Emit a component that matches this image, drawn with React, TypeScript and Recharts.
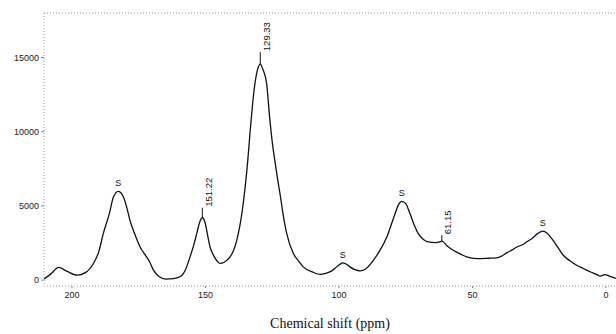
import { ComposedChart, Line, Scatter, XAxis, YAxis, ReferenceLine } from 'recharts';

// chemical shift (ppm), read from left (high) to right (low)
const shiftPpm = [
  210.5, 208, 205, 202, 198, 195, 192, 190, 188.3, 186, 184.5, 182.7, 181, 179.5, 178.3, 176.5,
  174.5, 172.3, 171, 169.5, 167.5, 165, 162, 159.6, 157.5, 155.8, 154.5, 153.3, 152.2, 151.2,
  150.2, 149.3, 148.3, 146.8, 145.5, 144.6, 143, 140.8, 139.5, 138.3, 137.1, 136.4, 135.2, 134.2,
  133.3, 132.4, 131.5, 130.5, 129.5, 128.5, 127.1, 126, 125, 124, 123, 122, 121, 119.6, 117.1, 115,
  113.4, 110, 107.1, 105, 102.7, 100.5, 98.6, 97, 95.9, 94, 92.1, 90, 87.1, 85, 82.1, 80.5, 79,
  77.8, 76.5, 75, 73.4, 71.8, 70.3, 68.5, 66.6, 64, 62.2, 61.5, 59.5, 57.2, 54.5, 52.2, 48.4, 44,
  40.9, 39, 37.2, 35, 33.4, 31, 29.5, 27.8, 25.5, 23.7, 22, 20.3, 18, 16, 13.5, 11, 8.5, 6, 3.5,
  2.2, 0.4, -1.5, -3.7,
];

const intensity = [
  80, 400, 850, 600, 330, 500, 1120, 1900, 3130, 4500, 5600, 5980, 5700, 4900, 4020, 3100,
  2230, 1610, 1250, 670, 250, 70, 100, 220, 700, 1560, 2300, 3130, 3900, 4200,
  3900, 3100, 2230, 1600, 1250, 1120, 1200, 1560, 2000, 2680, 3700, 4470, 6200, 8000,
  10000, 11800, 13230, 14200, 14550, 14200, 13230, 11000, 9300, 8000, 6800, 5700, 4500, 3140, 1790, 1250,
  890, 550, 380, 450, 620, 950, 1160, 1050, 890, 700, 620, 750, 1340, 1900, 2900, 3700, 4470,
  5050, 5310, 5150, 4470, 3700, 3130, 2750, 2570, 2520, 2570, 2620, 2300, 2010, 1750, 1560, 1450, 1470,
  1490, 1620, 1830, 2050, 2230, 2410, 2600, 2790, 3150, 3300, 3150, 2790, 2200, 1670, 1300, 1000, 780, 560, 380,
  270, 360, 250, 110,
];

// peak annotations
const peakPpm = [182.7, 151.2, 129.5, 98.6, 76.5, 61.5, 23.7];
const peakIntensity = [5980, 4200, 14550, 1160, 5310, 2620, 3300];
const peakLabels = ['S', '151.22', '129.33', 'S', 'S', '61.15', 'S'];

const xTicks = [0, 50, 100, 150, 200];
const yTicks = [0, 5000, 10000, 15000];

const spectrum = shiftPpm.map((ppm, i) => ({ ppm, y: intensity[i] }));
const peaks = peakPpm.map((ppm, i) => ({ ppm, y: peakIntensity[i], label: peakLabels[i] }));

const tickLen: Record<string, number> = { '151.22': 10, '129.33': 12, '61.15': 6 };
const sans = 'Liberation Sans, Arial, sans-serif';

const PeakMark = (props: any) => {
  const { cx, cy, payload } = props;
  if (payload.label === 'S') {
    return (
      <text x={cx} y={cy - 5} textAnchor="middle" fontSize={9} fontFamily={sans} fill="#111">
        S
      </text>
    );
  }
  const len = tickLen[payload.label] ?? 10;
  return (
    <g>
      <line x1={cx} y1={cy} x2={cx} y2={cy - len} stroke="#111" strokeWidth={1} />
      <text
        transform={`translate(${cx + 6},${cy - len - 1}) rotate(-90)`}
        dominantBaseline="central"
        fontSize={9.5}
        fontFamily={sans}
        fill="#111"
      >
        {payload.label}
      </text>
    </g>
  );
};

export default function App() {
  const dotted = { stroke: '#999', strokeDasharray: '1 2' };
  return (
    <div style={{ position: 'absolute', left: 0, top: 0, background: '#fff' }}>
      <ComposedChart width={616} height={334} data={spectrum} margin={{ top: 13, right: 0, bottom: 0, left: 0 }}>
        <XAxis
          dataKey="ppm"
          type="number"
          domain={[-3.75, 210.5]}
          reversed
          allowDataOverflow
          ticks={xTicks}
          height={48}
          axisLine={dotted}
          tickLine={{ stroke: '#888' }}
          tickSize={2}
          tickMargin={4}
          tick={{ fontSize: 9, fontFamily: sans, fill: '#222' }}
          label={{
            value: 'Chemical shift (ppm)',
            position: 'insideBottom',
            offset: 6,
            style: { fontSize: 14, fontFamily: 'Liberation Serif, Times New Roman, serif', fill: '#111' },
          }}
        />
        <YAxis
          type="number"
          domain={[-400, 18000]}
          allowDataOverflow
          ticks={yTicks}
          width={44}
          axisLine={dotted}
          tickLine={{ stroke: '#888' }}
          tickSize={3}
          tickMargin={2}
          tick={{ fontSize: 9, fontFamily: sans, fill: '#222' }}
        />
        <ReferenceLine y={18000} stroke="#999" strokeDasharray="1 2" />
        <Line
          dataKey="y"
          type="monotone"
          stroke="#111"
          strokeWidth={1.3}
          dot={false}
          isAnimationActive={false}
        />
        <Scatter data={peaks} dataKey="y" shape={PeakMark} isAnimationActive={false} />
      </ComposedChart>
    </div>
  );
}
